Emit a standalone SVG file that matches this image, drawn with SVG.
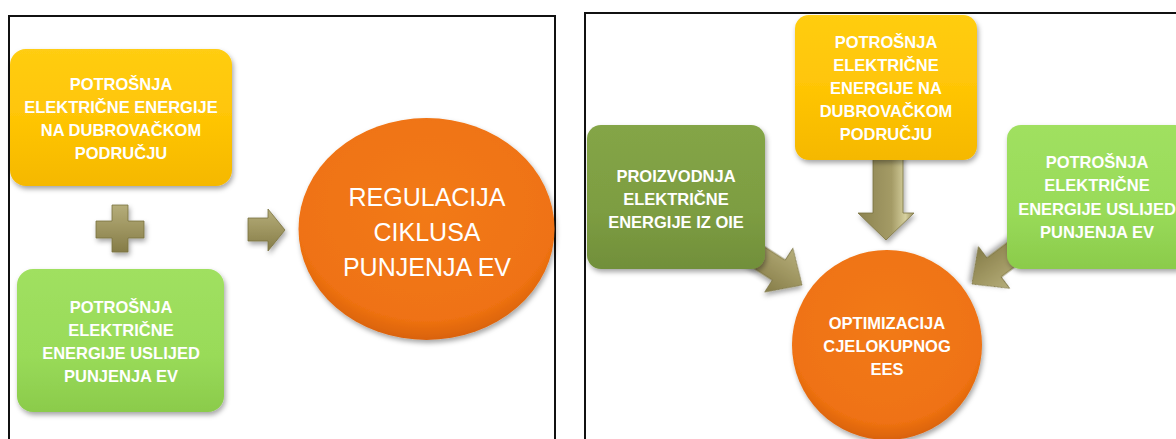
<svg xmlns="http://www.w3.org/2000/svg" width="1176" height="439" viewBox="0 0 1176 439">
<defs>
<linearGradient id="gY" x1="0" y1="0" x2="0" y2="1"><stop offset="0" stop-color="#FFCD12"/><stop offset="0.5" stop-color="#FFC506"/><stop offset="1" stop-color="#F5B800"/></linearGradient>
<linearGradient id="gG" x1="0" y1="0" x2="0" y2="1"><stop offset="0" stop-color="#A0E060"/><stop offset="0.6" stop-color="#99DB59"/><stop offset="1" stop-color="#8BCB4B"/></linearGradient>
<linearGradient id="gD" x1="0" y1="0" x2="0" y2="1"><stop offset="0" stop-color="#84A546"/><stop offset="0.6" stop-color="#7D9D42"/><stop offset="1" stop-color="#718F3A"/></linearGradient>
<radialGradient id="gO" cx="0.5" cy="0.4" r="0.6"><stop offset="0" stop-color="#F27A16"/><stop offset="0.85" stop-color="#EF7212"/><stop offset="1" stop-color="#D9620C"/></radialGradient>
<linearGradient id="gA" x1="0" y1="0" x2="0" y2="1"><stop offset="0" stop-color="#B5AD7A"/><stop offset="0.5" stop-color="#9E9560"/><stop offset="1" stop-color="#857C48"/></linearGradient>
<linearGradient id="gAv" x1="0" y1="0" x2="1" y2="0"><stop offset="0" stop-color="#8C8350"/><stop offset="0.6" stop-color="#A49B66"/><stop offset="0.85" stop-color="#D6D09E"/><stop offset="1" stop-color="#9A9160"/></linearGradient>
<filter id="sh" x="-10%" y="-10%" width="125%" height="130%"><feDropShadow dx="1.5" dy="3" stdDeviation="2.5" flood-color="#000" flood-opacity="0.35"/></filter>
</defs>
<style>
.frame{fill:none;stroke:#111;stroke-width:2}
.t{font-family:"Liberation Sans",Arial,sans-serif;font-weight:bold;font-size:16.5px;fill:#fff;text-anchor:middle}
.tr{font-family:"Liberation Sans",Arial,sans-serif;font-size:25px;fill:#fff;text-anchor:middle}
.arr{fill:url(#gA);stroke:#7A7240;stroke-width:0.8;filter:url(#sh)}
.arrv{fill:url(#gAv);stroke:#7A7240;stroke-width:0.8;filter:url(#sh)}
</style>
<rect width="1176" height="439" fill="#fff"/>
<rect class="frame" x="9" y="16" width="546" height="440"/>
<rect class="frame" x="585" y="13" width="620" height="440"/>

<g id="connectors">
<path class="arr" d="M112,205 H128 V221 H144 V238 H128 V252 H112 V238 H96 V221 H112 Z"/>
<path class="arr" d="M248,218 H268 V209 L285,230 L268,251 V241 H248 Z"/>
<path class="arrv" d="M873,150 H903 V213 H914 L886,240 L858,213 H873 Z"/>
<path class="arr" transform="translate(802,285) rotate(32.7)" d="M0,0 L-27.5,-26 L-27.5,-12 L-75,-12 L-75,12 L-27.5,12 L-27.5,26 Z"/>
<path class="arr" transform="translate(972,284) rotate(143.1)" d="M0,0 L-27.5,-26 L-27.5,-12 L-75,-12 L-75,12 L-27.5,12 L-27.5,26 Z"/>
</g>

<g id="left-yellow">
<rect x="10" y="49" width="222" height="137" rx="16" fill="url(#gY)" filter="url(#sh)"/>
<text class="t" x="121" y="90">POTROŠNJA</text>
<text class="t" x="121" y="113">ELEKTRIČNE ENERGIJE</text>
<text class="t" x="121" y="136">NA DUBROVAČKOM</text>
<text class="t" x="121" y="159">PODRUČJU</text>
</g>

<g id="left-green">
<rect x="17" y="269" width="207" height="143" rx="16" fill="url(#gG)" filter="url(#sh)"/>
<text class="t" x="121" y="313">POTROŠNJA</text>
<text class="t" x="121" y="336">ELEKTRIČNE</text>
<text class="t" x="121" y="359">ENERGIJE USLIJED</text>
<text class="t" x="121" y="382">PUNJENJA EV</text>
</g>

<g id="left-ellipse">
<ellipse cx="426.5" cy="229" rx="128" ry="111" fill="url(#gO)" filter="url(#sh)"/>
<text class="tr" x="427" y="206">REGULACIJA</text>
<text class="tr" x="427" y="241">CIKLUSA</text>
<text class="tr" x="427" y="276">PUNJENJA EV</text>
</g>

<g id="right-yellow">
<rect x="795" y="15" width="182" height="145" rx="14" fill="url(#gY)" filter="url(#sh)"/>
<text class="t" x="886" y="48">POTROŠNJA</text>
<text class="t" x="886" y="71">ELEKTRIČNE</text>
<text class="t" x="886" y="94">ENERGIJE NA</text>
<text class="t" x="886" y="117">DUBROVAČKOM</text>
<text class="t" x="886" y="140">PODRUČJU</text>
</g>

<g id="right-darkgreen">
<rect x="587" y="125" width="178" height="144" rx="14" fill="url(#gD)" filter="url(#sh)"/>
<text class="t" x="676" y="182">PROIZVODNJA</text>
<text class="t" x="676" y="205">ELEKTRIČNE</text>
<text class="t" x="676" y="228">ENERGIJE IZ OIE</text>
</g>

<g id="right-green">
<rect x="1007" y="125" width="182" height="144" rx="14" fill="url(#gG)" filter="url(#sh)"/>
<text class="t" x="1097" y="168">POTROŠNJA</text>
<text class="t" x="1097" y="191">ELEKTRIČNE</text>
<text class="t" x="1097" y="215">ENERGIJE USLIJED</text>
<text class="t" x="1097" y="238">PUNJENJA EV</text>
</g>

<g id="right-circle">
<circle cx="887" cy="345" r="95" fill="url(#gO)" filter="url(#sh)"/>
<text class="t" x="887" y="329">OPTIMIZACIJA</text>
<text class="t" x="887" y="352">CJELOKUPNOG</text>
<text class="t" x="887" y="375">EES</text>
</g>
</svg>
